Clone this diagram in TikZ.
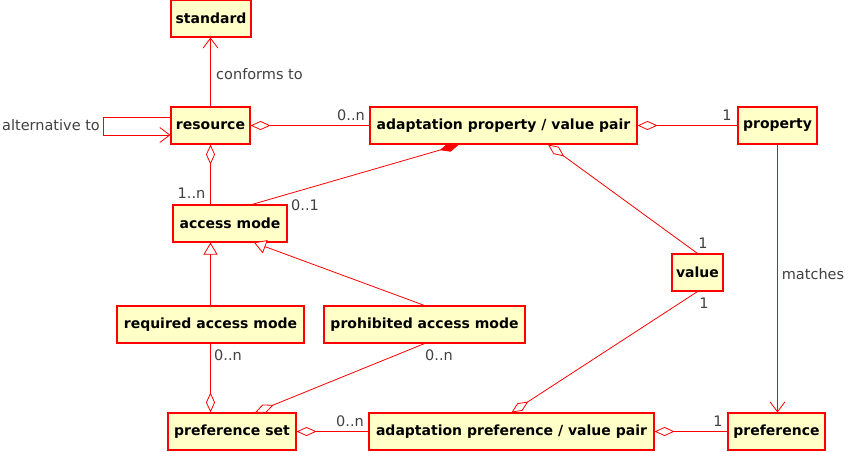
\documentclass[tikz,border=0pt]{standalone}
\usepackage{fontspec}
\setmainfont{DejaVu Sans}
\usetikzlibrary{arrows.meta}
\definecolor{boxfill}{RGB}{255,255,200}
\definecolor{lbl}{RGB}{64,64,64}
\begin{document}
\begin{tikzpicture}[x=1pt,y=-1pt,
 cls/.style={draw=red, line width=1.1pt, fill=boxfill, inner sep=0pt, minimum height=37pt, font=\fontsize{14}{16}\selectfont\bfseries, text=black},
 lab/.style={font=\fontsize{14.5}{16}\selectfont, text=lbl, inner sep=0pt},
 conn/.style={draw=red, line width=0.8pt},
 agg/.style={{Diamond[open,fill=white,length=20pt,width=9pt]}-},
 comp/.style={{Diamond[fill=red,length=20pt,width=9pt]}-},
 nav/.style={-{Straight Barb[length=10pt,width=15pt]}},
 gen/.style={-{Triangle[open,fill=white,length=12pt,width=14pt]}},
]
\path[use as bounding box] (0,0) rectangle (850,451);

\node[cls, minimum width=80pt]  (standard)   at (211,18.5)   {standard};
\node[cls, minimum width=79pt]  (resource)   at (210.5,125.5) {resource};
\node[cls, minimum width=267pt] (ppair)      at (503.5,125.5) {adaptation property / value pair};
\node[cls, minimum width=79pt]  (property)   at (777.5,125.5) {property};
\node[cls, minimum width=114pt] (access)     at (230,223.5)   {access mode};
\node[cls, minimum width=187pt] (required)   at (210.5,324.5) {required access mode};
\node[cls, minimum width=201pt] (prohibited) at (424.5,324.5) {prohibited access mode};
\node[cls, minimum width=51pt]  (value)      at (697.5,272.5) {value};
\node[cls, minimum width=128pt] (prefset)    at (232,431.5)   {preference set};
\node[cls, minimum width=285pt] (prefpair)   at (511.5,431.5) {adaptation preference / value pair};
\node[cls, minimum width=97pt]  (preference) at (776.5,431.5) {preference};

\draw[conn,nav] (resource.north) -- (resource.north |- standard.south);
\draw[conn,nav] ([yshift=8.5pt]resource.west) -- ++(-67,0) -- ++(0,18) -- ([yshift=-9.5pt]resource.west);
\draw[conn,agg] (resource.east) -- (ppair.west);
\draw[conn,agg] (resource.south) -- (resource.south |- access.north);
\draw[conn,comp] ([xshift=-44.5pt]ppair.south) -- ([xshift=22pt]access.north);
\draw[conn,agg] ([xshift=44.5pt]ppair.south) -- (value.north);
\draw[conn,agg] (ppair.east) -- (property.west);
\draw[conn,nav] (property.south) -- (property.south |- preference.north);
\draw[conn,gen] (required.north) -- (required.north |- access.south);
\draw[conn,gen] (prohibited.north) -- ([xshift=24pt]access.south);
\draw[conn,agg] (prefset.north -| required.south) -- (required.south);
\draw[conn,agg] ([xshift=23pt]prefset.north) -- (prohibited.south);
\draw[conn,agg] (prefpair.north) -- (value.south);
\draw[conn,agg] (prefset.east) -- (prefpair.west);
\draw[conn,agg] (prefpair.east) -- (preference.west);

\node[lab] (l1)  at (259.5,74) {conforms to};
\node[lab] (l2)  at (51,125)   {alternative to};
\node[lab] (l3)  at (351,115)  {0..n};
\node[lab] (l4)  at (727,115)  {1};
\node[lab] (l5)  at (191.5,193) {1..n};
\node[lab] (l6)  at (305,205)  {0..1};
\node[lab] (l7)  at (703,243)  {1};
\node[lab] (l8)  at (813,274)  {matches};
\node[lab] (l9)  at (704,303)  {1};
\node[lab] (l10) at (228,355)  {0..n};
\node[lab] (l11) at (439,355)  {0..n};
\node[lab] (l12) at (350,421)  {0..n};
\node[lab] (l13) at (718,421)  {1};
\end{tikzpicture}
\end{document}
